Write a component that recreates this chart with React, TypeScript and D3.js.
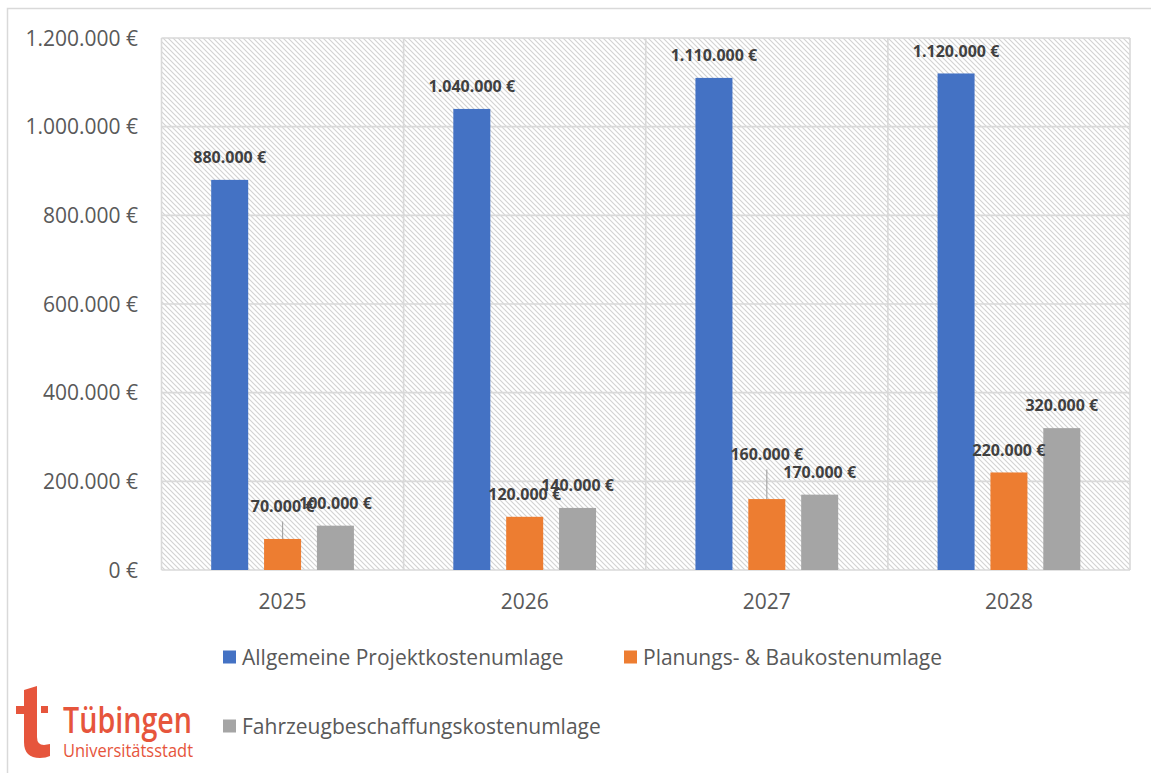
import React from "react";
import * as d3 from "d3";

// Chart data
const years = ["2025", "2026", "2027", "2028"];
const seriesNames = [
  "Allgemeine Projektkostenumlage",
  "Planungs- & Baukostenumlage",
  "Fahrzeugbeschaffungskostenumlage",
];
const projektkosten = [880000, 1040000, 1110000, 1120000];
const planungsBaukosten = [70000, 120000, 160000, 220000];
const fahrzeugkosten = [100000, 140000, 170000, 320000];
const yTicks = [0, 200000, 400000, 600000, 800000, 1000000, 1200000];

const seriesValues = [projektkosten, planungsBaukosten, fahrzeugkosten];
const colors = ["#4472C4", "#ED7D31", "#A5A5A5"];

// labels that were dragged up in the original (series-year -> extra px), drawn with a leader line
const labelLift: Record<string, number> = { "1-0": 10, "1-2": 22 };

const W = 1151;
const H = 773;
const plot = { left: 161.5, right: 1130, top: 38, bottom: 570 };

const FONT = "'Open Sans', 'Noto Sans', sans-serif";
const AXIS_COLOR = "#595959";
const LABEL_COLOR = "#404040";
const GRID = "#d9d9d9";
const LOGO = "#e6553c";

const euro = d3.formatLocale({
  decimal: ",",
  thousands: ".",
  grouping: [3],
  currency: ["", " €"],
}).format("$,.0f");

const App: React.FC = () => {
  const x0 = d3.scaleBand().domain(years).range([plot.left, plot.right]).padding(0);
  const x1 = d3
    .scaleBand()
    .domain(seriesNames)
    .range([0, x0.bandwidth()])
    .paddingInner(0.3)
    .paddingOuter(0.94);
  const y = d3.scaleLinear().domain([0, 1200000]).range([plot.bottom, plot.top]);

  const boundaries = [...years.map((yr) => x0(yr) as number), plot.right];

  const legendItems = [
    { x: 223, y: 657 },
    { x: 624, y: 657 },
    { x: 223, y: 726 },
  ];

  return (
    <svg
      width={W}
      height={H}
      style={{ position: "absolute", left: 0, top: 0, background: "#fff" }}
      fontFamily={FONT}
    >
      <defs>
        <pattern id="hatch" patternUnits="userSpaceOnUse" width={5} height={5}>
          <rect width={5} height={5} fill="#ffffff" />
          <path
            d="M0,0 L5,5 M-1,4 L1,6 M4,-1 L6,1"
            stroke="#d2d2d2"
            strokeWidth={1.1}
          />
        </pattern>
      </defs>

      {/* outer chart frame */}
      <rect x={7.5} y={8.5} width={W} height={H} fill="none" stroke={GRID} strokeWidth={1.5} />

      {/* plot area */}
      <rect
        x={plot.left}
        y={plot.top}
        width={plot.right - plot.left}
        height={plot.bottom - plot.top}
        fill="url(#hatch)"
      />

      {/* gridlines */}
      {yTicks.map((t) => (
        <line
          key={"h" + t}
          x1={plot.left}
          x2={plot.right}
          y1={y(t)}
          y2={y(t)}
          stroke={GRID}
          strokeWidth={1.6}
        />
      ))}
      {boundaries.map((bx, i) => (
        <line
          key={"v" + i}
          x1={bx}
          x2={bx}
          y1={plot.top}
          y2={plot.bottom}
          stroke={GRID}
          strokeWidth={1.6}
        />
      ))}

      {/* y axis labels */}
      {yTicks.map((t) => (
        <text
          key={"yl" + t}
          x={138}
          y={y(t)}
          dy="0.36em"
          textAnchor="end"
          fontSize={21}
          fill={AXIS_COLOR}
        >
          {euro(t)}
        </text>
      ))}

      {/* x axis labels */}
      {years.map((yr) => (
        <text
          key={"xl" + yr}
          x={(x0(yr) as number) + x0.bandwidth() / 2}
          y={601}
          dy="0.36em"
          textAnchor="middle"
          fontSize={21}
          fill={AXIS_COLOR}
        >
          {yr}
        </text>
      ))}

      {/* bars */}
      {seriesNames.map((s, si) =>
        years.map((yr, yi) => {
          const v = seriesValues[si][yi];
          const bx = (x0(yr) as number) + (x1(s) as number);
          return (
            <rect
              key={`b${si}-${yi}`}
              x={bx}
              y={y(v)}
              width={x1.bandwidth()}
              height={y(0) - y(v)}
              fill={colors[si]}
            />
          );
        })
      )}

      {/* data labels */}
      {seriesNames.map((s, si) =>
        years.map((yr, yi) => {
          const v = seriesValues[si][yi];
          const cx = (x0(yr) as number) + (x1(s) as number) + x1.bandwidth() / 2;
          const lift = labelLift[`${si}-${yi}`] || 0;
          const ly = y(v) - 22.5 - lift;
          return (
            <g key={`l${si}-${yi}`}>
              {lift > 0 && (
                <line
                  x1={cx}
                  x2={cx}
                  y1={ly + 15}
                  y2={y(v)}
                  stroke="#a6a6a6"
                  strokeWidth={1.2}
                />
              )}
              <text
                x={cx}
                y={ly}
                dy="0.36em"
                textAnchor="middle"
                fontSize={16}
                fontWeight={700}
                fill={LABEL_COLOR}
              >
                {euro(v)}
              </text>
            </g>
          );
        })
      )}

      {/* legend */}
      {seriesNames.map((s, si) => (
        <g key={"lg" + si} transform={`translate(${legendItems[si].x},${legendItems[si].y})`}>
          <rect x={0} y={-6.5} width={13} height={13} fill={colors[si]} />
          <text x={19} y={0} dy="0.36em" fontSize={21} fill={AXIS_COLOR}>
            {s}
          </text>
        </g>
      ))}

      {/* Tübingen logo */}
      <g fill={LOGO}>
        <path d="M16,706 L24,706 L24,690 L37,686 L37,737 Q37,745 44,745 L50,744 L50,756 Q46,758 40,758 Q24,758 24,742 L24,714 L16,714 Z" />
        <rect x={41} y={706} width={7} height={7} />
        <text
          x={63}
          y={733}
          fontSize={36}
          fontWeight={600}
          textLength={129}
          lengthAdjust="spacingAndGlyphs"
        >
          Tübingen
        </text>
        <text
          x={63}
          y={757}
          fontSize={18}
          textLength={130}
          lengthAdjust="spacingAndGlyphs"
        >
          Universitätsstadt
        </text>
      </g>
    </svg>
  );
};

export default App;
